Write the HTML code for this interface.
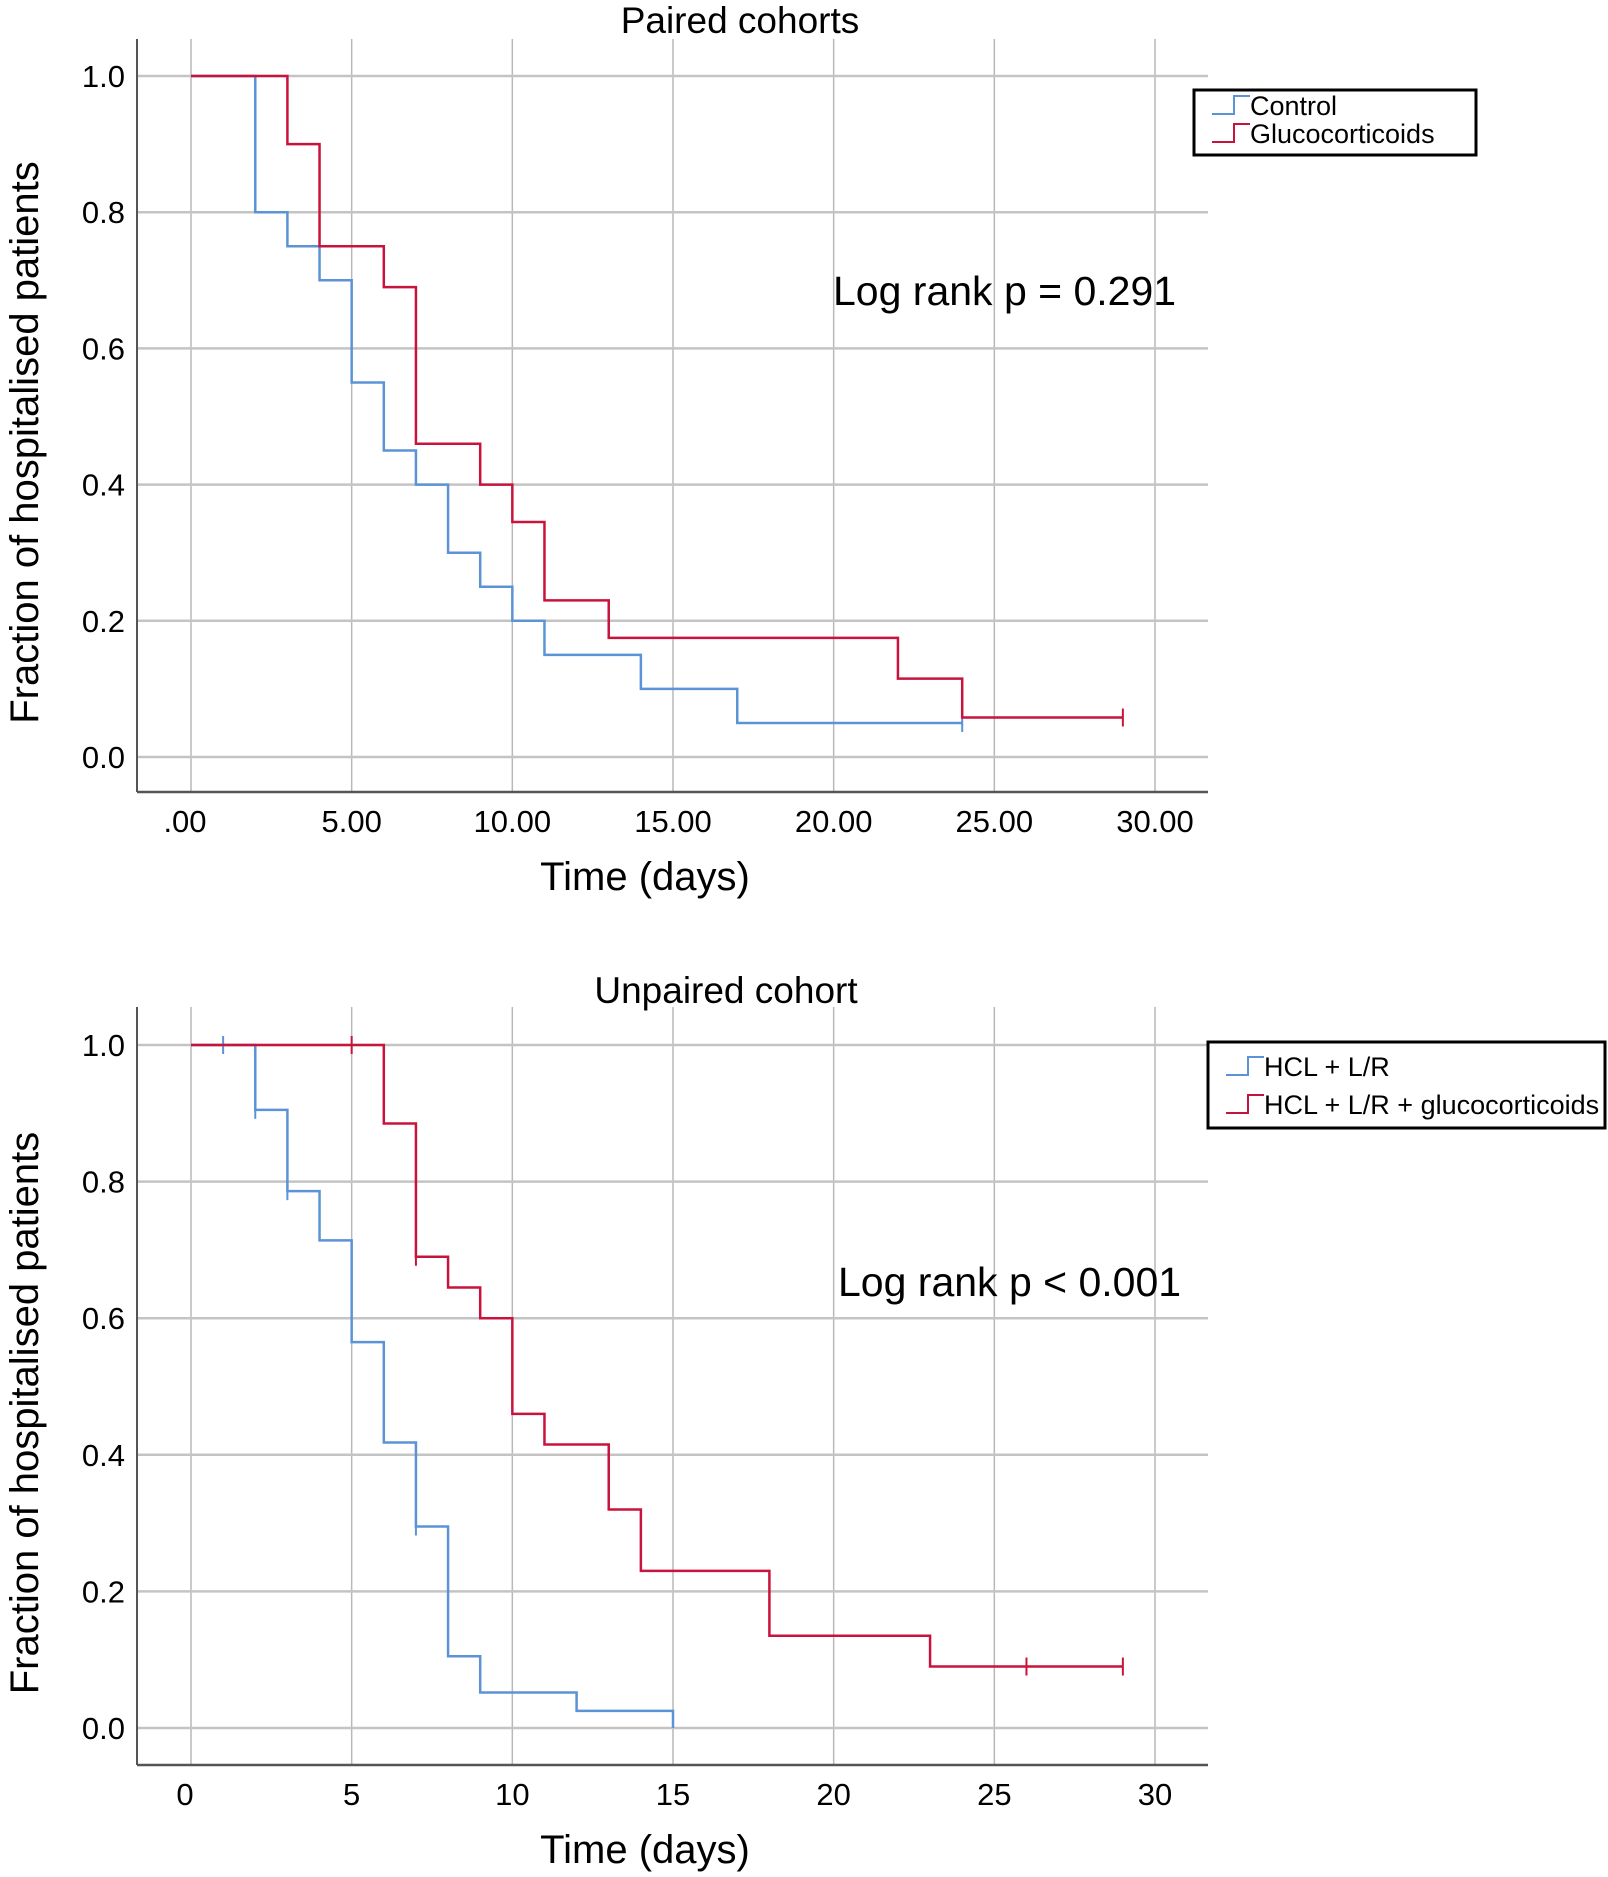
<!DOCTYPE html>
<html><head><meta charset="utf-8"><style>
html,body{margin:0;padding:0;background:#fff}
svg text{font-family:"Liberation Sans",sans-serif;fill:#000}
</style></head><body>
<svg id="s" width="1608" height="1872" viewBox="0 0 1608 1872" xmlns="http://www.w3.org/2000/svg"></svg>
<script>
const NS="http://www.w3.org/2000/svg";
const svg=document.getElementById('s');
const xTicks=[0,5,10,15,20,25,30];
const yTicks=[0,0.2,0.4,0.6,0.8,1.0];
const topXLabels=['.00','5.00','10.00','15.00','20.00','25.00','30.00'];
const botXLabels=['0','5','10','15','20','25','30'];
const yLabels=['0.0','0.2','0.4','0.6','0.8','1.0'];
// Paired cohorts
const ctrlT=[0,2,3,4,5,6,7,8,9,10,11,14,17,24];
const ctrlS=[1,0.8,0.75,0.7,0.55,0.45,0.4,0.3,0.25,0.2,0.15,0.1,0.05,0.05];
const ctrlCens=[24];
const glucT=[0,3,4,6,7,9,10,11,13,22,24,29];
const glucS=[1,0.9,0.75,0.69,0.46,0.4,0.345,0.23,0.175,0.115,0.058,0.058];
const glucCens=[29];
// Unpaired cohort
const hclT=[0,2,3,4,5,6,7,8,9,12,15,15];
const hclS=[1,0.905,0.786,0.714,0.565,0.418,0.295,0.105,0.052,0.025,0.025,0];
const hclCens=[1,2,3,7];
const hglT=[0,6,7,8,9,10,11,13,14,18,23,29];
const hglS=[1,0.885,0.69,0.645,0.6,0.46,0.415,0.32,0.23,0.135,0.09,0.09];
const hglCens=[5,7,26,29];

function el(tag,attrs,parent,name){const e=document.createElementNS(NS,tag);for(const k in attrs)e.setAttribute(k,attrs[k]);(parent||svg).appendChild(e);


return e;}
function txt(s,attrs,name){const t=el('text',attrs,svg,name);t.textContent=s;return t;}

function panel(cfg){
  const g=el('g',{},svg,cfg.name);
  const X=d=>cfg.x0+(cfg.x30-cfg.x0)*d/30;
  const Y=v=>cfg.y0+(cfg.y1-cfg.y0)*v;
  xTicks.forEach(t=>{el('line',{x1:X(t),x2:X(t),y1:cfg.top,y2:cfg.bottom,stroke:'#b8b8b8','stroke-width':1.5},g,'x-gridline');});
  yTicks.forEach(t=>{el('line',{x1:cfg.left,x2:cfg.right,y1:Y(t),y2:Y(t),stroke:'#c4c4c4','stroke-width':2.5},g,'y-gridline');});
  el('line',{x1:cfg.left,x2:cfg.left,y1:cfg.top,y2:cfg.bottom,stroke:'#555','stroke-width':2},g,'y-axis-line');
  el('line',{x1:cfg.left,x2:cfg.right,y1:cfg.bottom,y2:cfg.bottom,stroke:'#555','stroke-width':2.5},g,'x-axis-line');
  yTicks.forEach((t,i)=>{txt(yLabels[i],{x:cfg.left-12,y:Y(t)+11,'font-size':31,'text-anchor':'end'},'y-tick-label');});
  xTicks.forEach((t,i)=>{txt(cfg.xl[i],{x:X(t)+(i==0?-6:0),y:cfg.bottom+40,'font-size':31,'text-anchor':'middle'},'x-tick-label');});
  txt(cfg.title,{x:cfg.tx,y:cfg.ty,'font-size':37,'text-anchor':'middle'},'chart-title');
  txt('Time (days)',{x:645,y:cfg.bottom+98,'font-size':40,'text-anchor':'middle'},'x-axis-title');
  txt('Fraction of hospitalised patients',{x:0,y:0,'font-size':40,'text-anchor':'middle',transform:`translate(38,${(cfg.top+cfg.bottom)/2+27}) rotate(-90)`},'y-axis-title');
  txt(cfg.lr,{x:cfg.lrx,y:cfg.lry,'font-size':41},'log-rank-annotation');
  cfg.series.forEach(s=>{
    let d=`M${X(s.t[0])},${Y(s.s[0])}`;
    for(let i=1;i<s.t.length;i++){d+=` H${X(s.t[i])} V${Y(s.s[i])}`;}
    el('path',{d:d,fill:'none',stroke:s.c,'stroke-width':2.5},g,s.name);
    s.cens.forEach(c=>{let v=s.s[0];for(let i=0;i<s.t.length;i++)if(s.t[i]<=c)v=s.s[i];
      if(c===s.t[s.t.length-1])v=s.s[s.s.length-2]>0?s.s[s.s.length-2]:v;
      el('line',{x1:X(c),x2:X(c),y1:Y(v)-9,y2:Y(v)+9,stroke:s.c,'stroke-width':2},g,'censor-mark');});
  });
  const L=cfg.leg;
  el('rect',{x:L.x,y:L.y,width:L.w,height:L.h,fill:'#fff',stroke:'#000','stroke-width':3},g,'legend-box');
  cfg.series.forEach((s,i)=>{const yy=L.y+L.first+i*L.step;
    el('path',{d:`M${L.x+18},${yy+8} H${L.x+40} V${yy-10} H${L.x+56}`,fill:'none',stroke:s.c,'stroke-width':2},g,'legend-swatch');
    txt(s.label,{x:L.x+56,y:yy+9,'font-size':27},'legend-entry');});
}
panel({name:'paired-panel',x0:191,x30:1155,y1:76,y0:757,left:137,right:1208,top:39,bottom:792,
 xl:topXLabels,title:'Paired cohorts',tx:740,ty:33,lr:'Log rank p = 0.291',lrx:833,lry:305,
 leg:{x:1194,y:90,w:282,h:65,first:16,step:28},
 series:[{t:ctrlT,s:ctrlS,cens:ctrlCens,c:'#5b93d6',label:'Control',name:'control-curve'},
         {t:glucT,s:glucS,cens:glucCens,c:'#c8143c',label:'Glucocorticoids',name:'glucocorticoids-curve'}]});
panel({name:'unpaired-panel',x0:191,x30:1155,y1:1045,y0:1728,left:137,right:1208,top:1007,bottom:1765,
 xl:botXLabels,title:'Unpaired cohort',tx:726,ty:1003,lr:'Log rank p < 0.001',lrx:838,lry:1296,
 leg:{x:1208,y:1042,w:397,h:86,first:25,step:38},
 series:[{t:hclT,s:hclS,cens:hclCens,c:'#5b93d6',label:'HCL + L/R',name:'hcl-lr-curve'},
         {t:hglT,s:hglS,cens:hglCens,c:'#c8143c',label:'HCL + L/R + glucocorticoids',name:'hcl-lr-glucocorticoids-curve'}]});
</script>
</body></html>
